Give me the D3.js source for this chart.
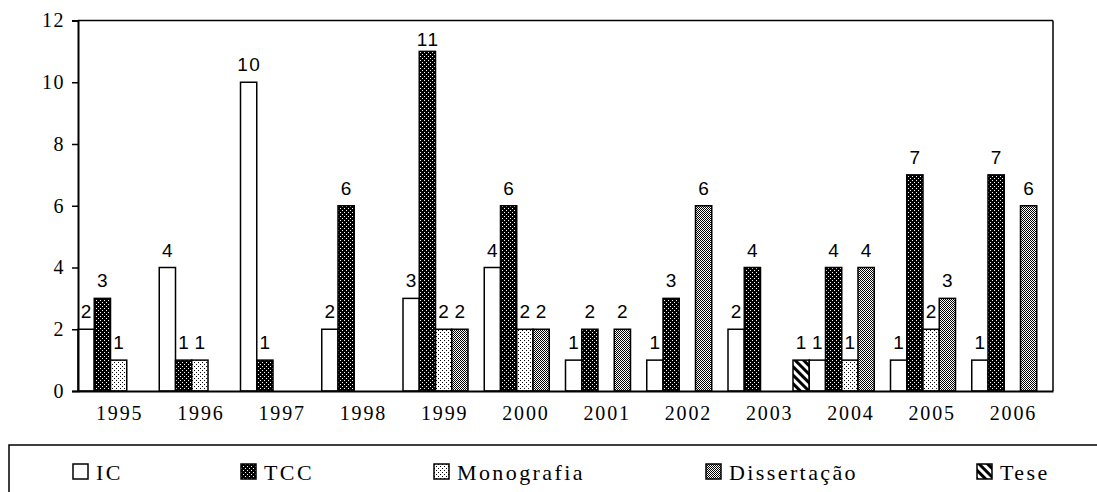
<!DOCTYPE html>
<html>
<head>
<meta charset="utf-8">
<script src="https://cdn.jsdelivr.net/npm/d3@7"></script>
<style>
  html, body { margin: 0; padding: 0; background: #fff; }
  svg { display: block; }
  .serif { font-family: "Liberation Serif", "DejaVu Serif", serif; }
  .sans { font-family: "Liberation Sans", Arial, sans-serif; }
</style>
</head>
<body>
<svg id="chart" width="1097" height="492"></svg>
<script>
// ---- Data ----
const years = ["1995","1996","1997","1998","1999","2000","2001","2002","2003","2004","2005","2006"];
const seriesNames = ["IC","TCC","Monografia","Dissertação","Tese"];
const slotOrder = ["Tese","IC","TCC","Monografia","Dissertação"];
const IC          = [2, 4, 10, 2, 3, 4, 1, 1, 2, 1, 1, 1];
const TCC         = [3, 1, 1, 6, 11, 6, 2, 3, 4, 4, 7, 7];
const Monografia  = [1, 1, null, null, 2, 2, null, null, null, 1, 2, null];
const Dissertacao = [null, null, null, null, 2, 2, 2, 6, null, 4, 3, 6];
const Tese        = [null, null, null, null, null, null, null, null, null, 1, null, null];
const yTicks = [0, 2, 4, 6, 8, 10, 12];

const seriesValues = {
  "IC": IC, "TCC": TCC, "Monografia": Monografia, "Dissertação": Dissertacao, "Tese": Tese
};

// ---- Layout ----
const svg = d3.select("#chart");
const plotLeft = 78, plotRight = 1053, plotTop = 20.5, plotBottom = 391;

const x = d3.scaleBand().domain(years).range([plotLeft, plotRight]).padding(0);
const step = x.step();
const slotW = step / 5;
const xs = d3.scaleBand().domain(slotOrder).range([-slotW, step - slotW]).padding(0);
const y = d3.scaleLinear().domain([0, 12]).range([plotBottom, plotTop]);

// ---- Patterns ----
const defs = svg.append("defs");
let p = defs.append("pattern").attr("id", "pTCC").attr("patternUnits", "userSpaceOnUse")
  .attr("width", 4).attr("height", 4);
p.append("rect").attr("width", 4).attr("height", 4).attr("fill", "#000");
p.append("rect").attr("x", 0).attr("y", 0).attr("width", 1).attr("height", 1).attr("fill", "#fff");
p.append("rect").attr("x", 2).attr("y", 2).attr("width", 1).attr("height", 1).attr("fill", "#fff");

p = defs.append("pattern").attr("id", "pMono").attr("patternUnits", "userSpaceOnUse")
  .attr("width", 4).attr("height", 4);
p.append("rect").attr("width", 4).attr("height", 4).attr("fill", "#fff");
p.append("rect").attr("x", 0).attr("y", 0).attr("width", 1).attr("height", 1).attr("fill", "#000");
p.append("rect").attr("x", 2).attr("y", 2).attr("width", 1).attr("height", 1).attr("fill", "#000");

p = defs.append("pattern").attr("id", "pDiss").attr("patternUnits", "userSpaceOnUse")
  .attr("width", 2).attr("height", 2);
p.append("rect").attr("width", 2).attr("height", 2).attr("fill", "#fff");
p.append("rect").attr("x", 0).attr("y", 0).attr("width", 1).attr("height", 1).attr("fill", "#000");
p.append("rect").attr("x", 1).attr("y", 1).attr("width", 1).attr("height", 1).attr("fill", "#000");

p = defs.append("pattern").attr("id", "pTese").attr("patternUnits", "userSpaceOnUse")
  .attr("width", 6).attr("height", 6).attr("patternTransform", "rotate(-45)");
p.append("rect").attr("width", 6).attr("height", 6).attr("fill", "#fff");
p.append("rect").attr("x", 0).attr("y", 0).attr("width", 3).attr("height", 6).attr("fill", "#000");

const fills = {
  "IC": "#fff", "TCC": "url(#pTCC)", "Monografia": "url(#pMono)",
  "Dissertação": "url(#pDiss)", "Tese": "url(#pTese)"
};

// ---- Bars ----
const barData = [];
slotOrder.forEach(s => {
  seriesValues[s].forEach((v, i) => {
    if (v != null) barData.push({ series: s, year: years[i], value: v });
  });
});

svg.append("g").selectAll("rect").data(barData).join("rect")
  .attr("x", d => x(d.year) + xs(d.series))
  .attr("y", d => y(d.value))
  .attr("width", slotW)
  .attr("height", d => y(0) - y(d.value))
  .attr("fill", d => fills[d.series])
  .attr("stroke", "#000")
  .attr("stroke-width", 1.5);

// ---- Value labels ----
svg.append("g").selectAll("text").data(barData).join("text")
  .attr("class", "sans")
  .attr("x", d => x(d.year) + xs(d.series) + slotW / 2 + 0.75)
  .attr("y", d => Math.max(y(d.value) - 11, plotTop + 25.5))
  .attr("text-anchor", "middle")
  .style("font-size", "19px")
  .style("letter-spacing", "1.5px")
  .attr("fill", "#000")
  .text(d => d.value);

// ---- Frame ----
svg.append("line").attr("x1", plotLeft).attr("x2", plotRight).attr("y1", plotTop).attr("y2", plotTop)
  .attr("stroke", "#000").attr("stroke-width", 1.5);
svg.append("line").attr("x1", plotRight).attr("x2", plotRight).attr("y1", plotTop).attr("y2", plotBottom)
  .attr("stroke", "#000").attr("stroke-width", 1.5);

// ---- Axes ----
const yAxis = d3.axisLeft(y).tickValues(yTicks).tickSize(6).tickPadding(7).tickFormat(d3.format("d"));
const gy = svg.append("g").attr("transform", `translate(${plotLeft},0)`).call(yAxis);
gy.attr("font-family", null).attr("font-size", null);
gy.select(".domain").attr("stroke", "#000").attr("stroke-width", 2);
gy.selectAll(".tick line").attr("stroke", "#000").attr("stroke-width", 1.5);
gy.selectAll(".tick text").attr("class", "serif")
  .style("font-size", "20px").style("letter-spacing", "1.5px").attr("fill", "#000");

const xAxis = d3.axisBottom(x).tickSize(0).tickPadding(15);
const gx = svg.append("g").attr("transform", `translate(0,${plotBottom})`).call(xAxis);
gx.attr("font-family", null).attr("font-size", null);
gx.select(".domain").attr("stroke", "#000").attr("stroke-width", 2);
gx.selectAll(".tick text").attr("class", "serif")
  .attr("dx", 1)
  .style("font-size", "20px").style("letter-spacing", "1.8px").attr("fill", "#000");

// ---- Legend ----
svg.append("rect").attr("x", 9).attr("y", 445).attr("width", 1200).attr("height", 200)
  .attr("fill", "none").attr("stroke", "#000").attr("stroke-width", 1.5);
const legendX = [73, 241, 434, 706, 977];
const lg = svg.append("g").selectAll("g").data(seriesNames).join("g")
  .attr("transform", (d, i) => `translate(${legendX[i]},464)`);
lg.append("rect").attr("width", 15).attr("height", 15)
  .attr("fill", d => fills[d]).attr("stroke", "#000").attr("stroke-width", 1.5);
lg.append("text").attr("class", "serif").attr("x", 23).attr("y", 15.5)
  .style("font-size", "22px").style("letter-spacing", "2.4px").attr("fill", "#000")
  .text(d => d);
</script>
</body>
</html>
